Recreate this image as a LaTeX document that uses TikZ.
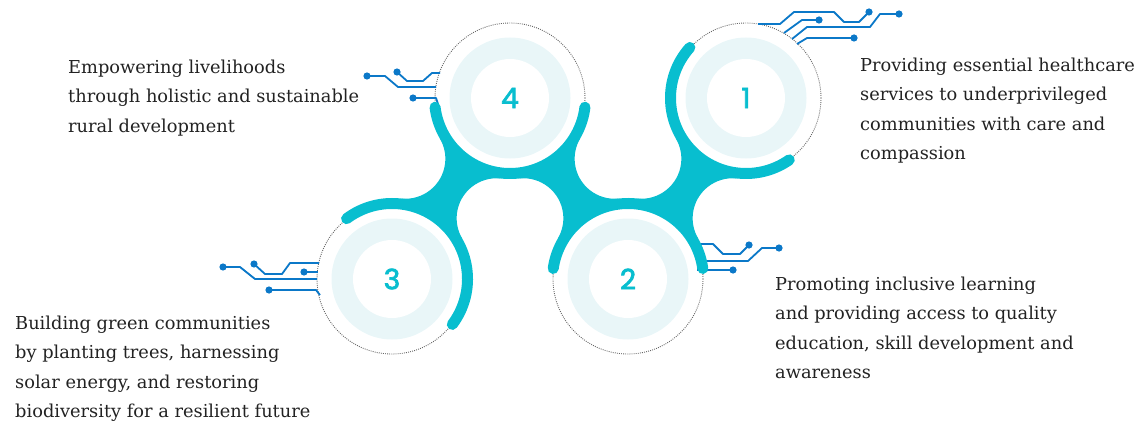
\documentclass[tikz,border=0pt]{standalone}
\usepackage{fontspec}
\setmainfont{DejaVu Serif}
\newfontfamily\numfont{Poppins}[FakeBold=2.5]
\definecolor{tealmain}{HTML}{08BECF}
\definecolor{lightring}{HTML}{E9F6F8}
\definecolor{circblue}{HTML}{0B78C8}
\definecolor{dotgray}{HTML}{666666}
\definecolor{txtcol}{HTML}{222222}
\tikzset{
  ringarc/.style={draw=tealmain, line width=11bp, line cap=round},
  bridge/.style={fill=tealmain},
  dotcirc/.style={draw=dotgray, line width=0.9bp, dash pattern=on 0.9bp off 1.2bp},
  trace/.style={draw=circblue, line width=1.8bp, line join=round},
  tracedot/.style={fill=circblue},
  desc/.style={anchor=base west, inner sep=0pt, text=txtcol, font=\fontsize{17.8bp}{29.5bp}\selectfont},
  numlbl/.style={text=tealmain, font=\numfont\fontsize{28bp}{30bp}\selectfont, inner sep=0pt},
}
\begin{document}
\begin{tikzpicture}[x=1bp, y=1bp]
\useasboundingbox (0,0) rectangle (1138,424);
\coordinate (c4) at (510,326);
\coordinate (c1) at (746,326);
\coordinate (c3) at (392,145);
\coordinate (c2) at (628,145);

% bridges between neighbouring rings
\fill[bridge] (501.06,245.50) arc[start angle=83.67, end angle=210.13, radius=40bp]
  -- (400.94,225.50) arc[start angle=263.67, end angle=390.13, radius=40bp] -- cycle;
\fill[bridge] (518.94,245.50) arc[start angle=96.33, end angle=-30.13, radius=40bp]
  -- (619.06,225.50) arc[start angle=-83.67, end angle=-210.13, radius=40bp] -- cycle;
\fill[bridge] (737.06,245.50) arc[start angle=83.67, end angle=210.13, radius=40bp]
  -- (636.94,225.50) arc[start angle=263.67, end angle=390.13, radius=40bp] -- cycle;

\foreach \c in {c1,c2,c3,c4}{
  \draw[dotcirc] (\c) circle[radius=75bp];
}

% circuit traces, circle 1
\draw[trace] (758,400) -- (780,400) -- (794,412) -- (834,412) -- (844,402) -- (859,402) -- (869,412);
\draw[trace] (784,391) -- (802,404) -- (819,404);
\draw[trace] (792,385) -- (807,397) -- (870,397) -- (880,410) -- (899,410);
\draw[trace] (797,380) -- (807,386) -- (854,386);
\fill[tracedot] (869,412) circle[radius=3.6bp] (819,404) circle[radius=3.6bp]
  (899,410) circle[radius=3.6bp] (854,386) circle[radius=3.6bp];
% circle 3
\draw[trace] (223,157) -- (240,157) -- (255,145) -- (317,145);
\draw[trace] (254,160) -- (265,150) -- (282,150) -- (290,161) -- (319,161);
\draw[trace] (304,152) -- (317.5,152);
\draw[trace] (269,134) -- (316,134) -- (320,129);
\fill[tracedot] (223,157) circle[radius=3.6bp] (254,160) circle[radius=3.6bp]
  (304,152) circle[radius=3.6bp] (269,134) circle[radius=3.6bp];
% circle 4
\draw[trace] (367,348) -- (385,348) -- (398,337) -- (436,337);
\draw[trace] (397,352) -- (407,343) -- (423,343) -- (432,351) -- (440,351);
\draw[trace] (413,326) -- (436,326) -- (438,320);
\fill[tracedot] (367,348) circle[radius=3.6bp] (397,352) circle[radius=3.6bp]
  (413,326) circle[radius=3.6bp];
% circle 2
\draw[trace] (696,180) -- (713,180) -- (723,170) -- (740,170) -- (749,179);
\draw[trace] (698,163) -- (748,163) -- (762,176) -- (779,176);
\draw[trace] (697,154) -- (733,154);
\fill[tracedot] (749,179) circle[radius=3.6bp] (779,176) circle[radius=3.6bp]
  (733,154) circle[radius=3.6bp];

% teal ring arcs
\draw[ringarc] (c4) ++(187:75.5bp) arc[start angle=187, end angle=353, radius=75.5bp];
\draw[ringarc] (c1) ++(138:75.5bp) arc[start angle=138, end angle=305, radius=75.5bp];
\draw[ringarc] (c3) ++(-37:75.5bp) arc[start angle=-37, end angle=127, radius=75.5bp];
\draw[ringarc] (c2) ++(8:75.5bp) arc[start angle=8, end angle=172, radius=75.5bp];

% light rings
\foreach \c in {c1,c2,c3,c4}{
  \fill[lightring] (\c) circle[radius=60.5bp];
  \fill[white] (\c) circle[radius=39bp];
}
\node[numlbl] (n1) at (c1) {1};
\node[numlbl] (n2) at (c2) {2};
\node[numlbl] (n3) at (c3) {3};
\node[numlbl] (n4) at (c4) {4};

\node[desc] (t4) at (68,351) {\begin{tabular}[t]{@{}l@{}}Empowering livelihoods\\through holistic and sustainable\\rural development\end{tabular}};
\node[desc] (t1) at (860,353) {\begin{tabular}[t]{@{}l@{}}Providing essential healthcare\\services to underprivileged\\communities with care and\\compassion\end{tabular}};
\node[desc] (t2) at (775,134) {\begin{tabular}[t]{@{}l@{}}Promoting inclusive learning\\and providing access to quality\\education, skill development and\\awareness\end{tabular}};
\node[desc] (t3) at (15,95) {\begin{tabular}[t]{@{}l@{}}Building green communities\\by planting trees, harnessing\\solar energy, and restoring\\biodiversity for a resilient future\end{tabular}};
\end{tikzpicture}
\end{document}
